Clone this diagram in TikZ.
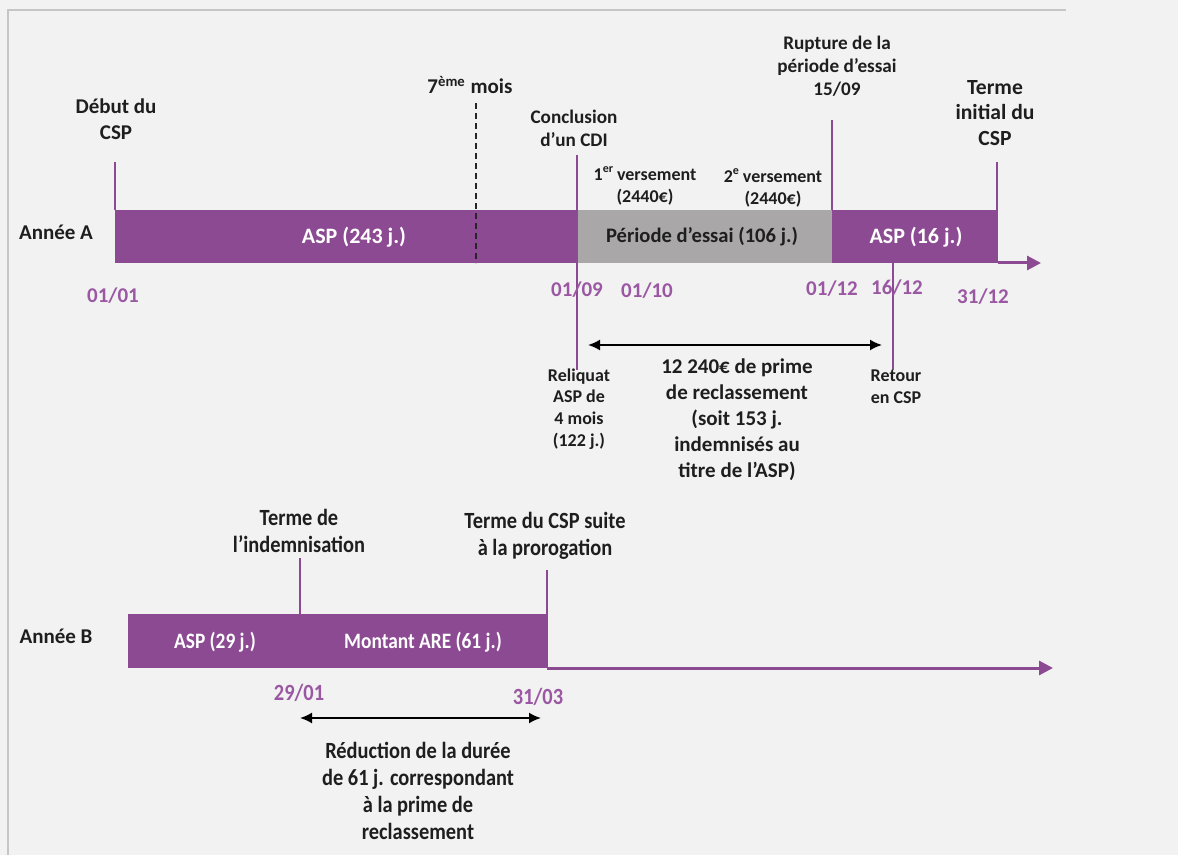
\documentclass[tikz,border=0pt]{standalone}
\usepackage{fontspec}
\setmainfont{Carlito}
\newfontfamily\condfont{Carlito}[FakeStretch=0.88]
\usetikzlibrary{arrows.meta}

\definecolor{bgcol}{HTML}{F2F2F2}
\definecolor{framecol}{HTML}{C6C6C6}
\definecolor{barpurple}{HTML}{8C4A93}
\definecolor{bargrey}{HTML}{A9A7A7}
\definecolor{datepurple}{HTML}{9A58A3}
\definecolor{txt}{HTML}{1E1E1E}

\tikzset{
  lbl/.style={text=txt, align=center, inner sep=0pt},
  big/.style={lbl, font=\fontsize{10.5}{13}\selectfont\bfseries},
  mid/.style={lbl, font=\fontsize{9.6}{11.4}\selectfont\bfseries},
  small/.style={lbl, font=\fontsize{9}{10.8}\selectfont\bfseries},
  cond/.style={lbl, font=\condfont\fontsize{11.6}{13.4}\selectfont\bfseries},
  datelbl/.style={text=datepurple, inner sep=0pt, font=\fontsize{10.5}{13}\selectfont\bfseries},
  conddate/.style={text=datepurple, inner sep=0pt, font=\condfont\fontsize{11.6}{13}\selectfont\bfseries},
  barlbl/.style={text=white, inner sep=0pt, font=\fontsize{11}{12}\selectfont\bfseries},
  condbar/.style={text=white, inner sep=0pt, font=\condfont\fontsize{11}{12}\selectfont\bfseries},
  tick/.style={draw=barpurple, line width=1pt},
  axis/.style={draw=barpurple, line width=1.5pt, -{Triangle[length=7pt,width=7pt]}},
  span/.style={draw=black, line width=0.9pt, {Latex[length=6pt,width=5.5pt]}-{Latex[length=6pt,width=5.5pt]}},
}

\begin{document}
\begin{tikzpicture}[x=0.5pt,y=-0.5pt]
% page and frame
\fill[bgcol] (0,0) rectangle (1178,855);
\useasboundingbox (0,0) rectangle (1178,855);
\draw[framecol, line width=0.8pt] (8,855) -- (8,10) -- (1066,10);

% ---------- Year A ----------
\node[big, anchor=center] (anneeA) at (56,232) {Année A};

% bar segments
\fill[barpurple] (115,210) rectangle (577,263);
\fill[bargrey]   (577,210) rectangle (832,263);
\fill[barpurple] (832,210) rectangle (998,263);
\node[barlbl] (aspA) at (354,237) {ASP (243 j.)};
\node[lbl, font=\fontsize{10.3}{12}\selectfont\bfseries] (essai) at (702,237) {Période d’essai (106 j.)};
\node[barlbl] (aspB) at (916,237) {ASP (16 j.)};

% axis
\coordinate (axAstart) at (998,263);
\coordinate (axAend) at (1041,263);
\draw[axis] (axAstart) -- (axAend);

% ticks and dashed marker
\coordinate (t1a) at (115,162); \coordinate (t1b) at (115,210);
\draw[tick] (t1a) -- (t1b);
\coordinate (t7a) at (476,103); \coordinate (t7b) at (476,263);
\draw[black!85, line width=0.9pt, dash pattern=on 3pt off 2pt] (t7a) -- (t7b);
\coordinate (tCa) at (577,155); \coordinate (tCb) at (577,370);
\draw[tick] (tCa) -- (tCb);
\coordinate (tRa) at (832,120); \coordinate (tRb) at (832,210);
\draw[tick] (tRa) -- (tRb);
\coordinate (tTa) at (997,162); \coordinate (tTb) at (997,210);
\draw[tick] (tTa) -- (tTb);
\coordinate (tSa) at (893,263); \coordinate (tSb) at (893,370);
\draw[tick] (tSa) -- (tSb);

% labels above
\node[big] (debut) at (116,119) {Début du\\CSP};
\node[big] (sept) at (470,85) {7\textsuperscript{ème} mois};
\node[mid] (concl) at (574,128) {Conclusion\\d’un CDI};
\node[small] (vers1) at (645,186) {1\textsuperscript{er}\,versement\\(2440€)};
\node[small] (vers2) at (773,188) {2\textsuperscript{e}\,versement\\(2440€)};
\node[mid] (rupt) at (837,66) {Rupture de la\\période d’essai\\15/09};
\node[lbl, font=\fontsize{10.8}{12.6}\selectfont\bfseries] (terme) at (995,113) {Terme\\initial du\\CSP};

% dates
\node[datelbl] (d0101) at (113,296) {01/01};
\node[datelbl] (d0109) at (577,290) {01/09};
\node[datelbl] (d0110) at (647,291) {01/10};
\node[datelbl] (d0112) at (832,289) {01/12};
\node[datelbl] (d1612) at (897,288) {16/12};
\node[datelbl] (d3112) at (983,297) {31/12};

% span and labels below
\coordinate (spA1) at (588,345); \coordinate (spA2) at (882,345);
\draw[span] (spA1) -- (spA2);
\node[small] (reliq) at (579,409) {Reliquat\\ASP de\\4 mois\\(122 j.)};
\node[big] (prime) at (737,420) {12 240€ de prime\\de reclassement\\(soit 153 j.\\indemnisés au\\titre de l’ASP)};
\node[small] (retour) at (896,387) {Retour\\en CSP};

% ---------- Year B ----------
\node[big] (anneeB) at (56,636) {Année B};
\fill[barpurple] (128,614) rectangle (547,668);
\node[condbar] (aspC) at (215,642) {ASP (29 j.)};
\node[condbar] (are) at (423,642) {Montant ARE (61 j.)};

\coordinate (axBstart) at (547,668);
\coordinate (axBend) at (1053,668);
\draw[axis] (axBstart) -- (axBend);

\coordinate (tIa) at (300,558); \coordinate (tIb) at (300,614);
\draw[tick] (tIa) -- (tIb);
\coordinate (tPa) at (547,570); \coordinate (tPb) at (547,668);
\draw[tick] (tPa) -- (tPb);

\node[cond] (termeInd) at (299,531) {Terme de\\l’indemnisation};
\node[cond] (termeCSP) at (545,536) {Terme du CSP suite\\à la prorogation};

\node[conddate] (d2901) at (299,693) {29/01};
\node[conddate] (d3103) at (538,697) {31/03};

\coordinate (spB1) at (300,718); \coordinate (spB2) at (541,718);
\draw[span] (spB1) -- (spB2);
\node[cond] (reduc) at (418,791) {Réduction de la durée\\de 61 j. correspondant\\à la prime de\\reclassement};
\end{tikzpicture}
\end{document}
